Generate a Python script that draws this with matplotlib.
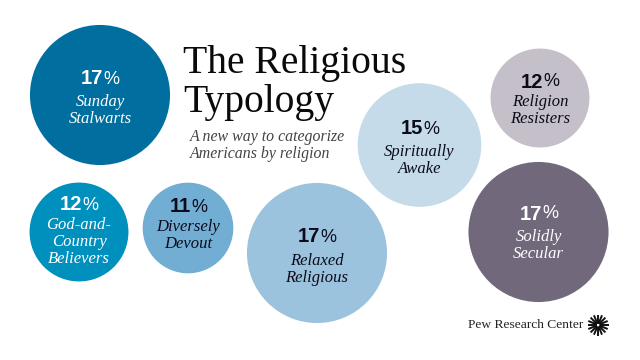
import matplotlib
matplotlib.use('Agg')
import matplotlib.pyplot as plt
from matplotlib.patches import Circle
import numpy as np

# The groups, left to right
names = [['Sunday', 'Stalwarts'], ['God-and-', 'Country', 'Believers'], ['Diversely', 'Devout'],
         ['Relaxed', 'Religious'], ['Spiritually', 'Awake'], ['Religion', 'Resisters'], ['Solidly', 'Secular']]
values = [17, 12, 11, 17, 15, 12, 17]

# layout and style, in pixels from the top left
centers = [(100, 95), (79, 232), (188, 228), (317, 253), (419.5, 145), (540, 98), (538.5, 232)]
num_y = [79, 205, 207, 237, 129, 82, 214]
label_y = [102, 225, 227, 261, 152, 102, 237]
colors = ['#006fa0', '#0090bd', '#72aed3', '#9cc3de', '#c5dbea', '#c4bfc9', '#71687c']
text_colors = ['white', 'white', '#0b0b1a', '#0b0b1a', '#0b0b1a', '#0b0b1a', 'white']
radius_per_point = 4.12

fig = plt.figure(figsize=(6.4, 3.6), dpi=100)
ax = fig.add_axes([0, 0, 1, 1])
ax.set_xlim(0, 640)
ax.set_ylim(360, 0)
ax.axis('off')


def percent_label(x, y, value, color):
    # bold number, light percent sign, centred together
    a = ax.text(x, y, str(value), family='Liberation Sans', weight='bold', fontsize=14.5,
                color=color, ha='left', va='center')
    b = ax.text(x, y, '%', family='Liberation Sans', fontsize=13, color=color, ha='left', va='center')
    r = fig.canvas.get_renderer()
    wa = a.get_window_extent(r).width
    wb = b.get_window_extent(r).width
    a.set_x(x - (wa + wb) / 2)
    b.set_x(x - (wa + wb) / 2 + wa + 0.5)


for i in range(len(names)):
    cx, cy = centers[i]
    ax.add_patch(Circle((cx, cy), values[i] * radius_per_point, facecolor=colors[i], edgecolor='none'))
    percent_label(cx, num_y[i], values[i], text_colors[i])
    for j, line in enumerate(names[i]):
        ax.text(cx, label_y[i] + j * 17, line, family='Liberation Serif', style='italic', fontsize=12,
                color=text_colors[i], ha='center', va='center')

ax.text(183, 73, 'The Religious', family='Liberation Serif', fontsize=28.5, color='#0a0a0a',
        ha='left', va='baseline')
ax.text(183, 112, 'Typology', family='Liberation Serif', fontsize=28.5, color='#0a0a0a',
        ha='left', va='baseline')
ax.text(190, 137, 'A new way to categorize', family='Liberation Serif', style='italic', fontsize=11.4,
        color='#444444', ha='left', va='center')
ax.text(190, 154, 'Americans by religion', family='Liberation Serif', style='italic', fontsize=11.4,
        color='#444444', ha='left', va='center')

# footer with the starburst logo
ax.text(583, 325, 'Pew Research Center', family='Liberation Serif', fontsize=9.7, color='#222222',
        ha='right', va='center')
for t in np.linspace(0, 2 * np.pi, 16, endpoint=False):
    ax.plot([598 + 1.5 * np.cos(t), 598 + 10.5 * np.cos(t)], [325 + 1.5 * np.sin(t), 325 + 10.5 * np.sin(t)],
            color='#111111', lw=1.4, solid_capstyle='butt')

fig.savefig('out.png', dpi=100)
